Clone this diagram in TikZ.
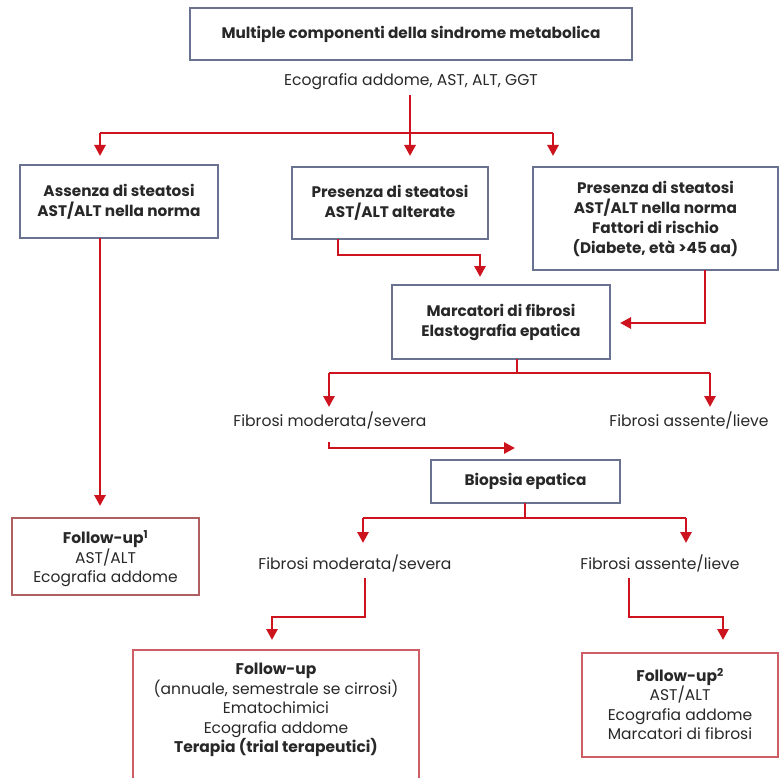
\documentclass[tikz,border=0pt]{standalone}
\usepackage{fontspec}
\setmainfont{Poppins}
\usetikzlibrary{arrows.meta}
\definecolor{arrred}{RGB}{205,20,30}
\definecolor{bluebd}{RGB}{105,115,145}
\definecolor{redbd}{RGB}{205,95,100}
\definecolor{brbd}{RGB}{175,95,95}
\definecolor{txt}{RGB}{40,40,40}
\begin{document}
\begin{tikzpicture}[x=1pt,y=-1pt,
  every node/.style={text=txt},
  bbox/.style={draw=bluebd,line width=1.4pt,fill=white,align=center,inner sep=0pt,font=\fontsize{15.3}{20}\selectfont\bfseries},
  rbox/.style={draw=redbd,line width=1.4pt,fill=white,align=center,inner sep=0pt,font=\fontsize{15.5}{19.5}\selectfont},
  btxt/.style={align=center,inner sep=0pt,font=\fontsize{15.5}{19.5}\selectfont},
  lbl/.style={inner sep=0pt,font=\fontsize{15.6}{20}\selectfont},
  arr/.style={draw=arrred,line width=2.8pt,-{Triangle[length=11pt,width=11pt]}},
  ln/.style={draw=arrred,line width=2.8pt}]
\useasboundingbox (0,0) rectangle (781,778);

% boxes
\node[bbox,minimum width=442pt,minimum height=52pt] (top) at (411,34) {Multiple componenti della sindrome metabolica};
\node[lbl] (eco) at (411,82) {Ecografia addome, AST, ALT, GGT};
\node[bbox,minimum width=198pt,minimum height=73pt] (left) at (119,201.5) {Assenza di steatosi\\AST/ALT nella norma};
\node[bbox,minimum width=196pt,minimum height=72pt] (mid) at (390,203) {Presenza di steatosi\\AST/ALT alterate};
\node[bbox,minimum width=245pt,minimum height=103pt] (right) at (655.5,218.5) {Presenza di steatosi\\AST/ALT nella norma\\Fattori di rischio\\(Diabete, età >45 aa)};
\node[bbox,minimum width=218pt,minimum height=74pt] (marc) at (501,322) {Marcatori di fibrosi\\Elastografia epatica};
\node[lbl] (fm1) at (330,420) {Fibrosi moderata/severa};
\node[lbl] (fa1) at (689,420) {Fibrosi assente/lieve};
\node[bbox,minimum width=189pt,minimum height=43pt] (biop) at (525.5,481.5) {Biopsia epatica};
\node[lbl] (fm2) at (355,563) {Fibrosi moderata/severa};
\node[lbl] (fa2) at (660,563) {Fibrosi assente/lieve};
\node[rbox,draw=brbd,minimum width=187pt,minimum height=77pt] (fu1) at (105.5,556.5) {};
\node[btxt] (fu1t) at (105.5,559) {\textbf{Follow-up\textsuperscript{1}}\\AST/ALT\\Ecografia addome};
\node[rbox,minimum width=286pt,minimum height=134pt] (fu) at (276,717) {};
\node[btxt] (fut) at (276,710) {\textbf{Follow-up}\\(annuale, semestrale se cirrosi)\\Ematochimici\\Ecografia addome\\\textbf{Terapia (trial terapeutici)}};
\node[rbox,minimum width=196pt,minimum height=104pt] (fu2) at (680,705) {};
\node[btxt] (fu2t) at (680,704) {\textbf{Follow-up\textsuperscript{2}}\\AST/ALT\\Ecografia addome\\Marcatori di fibrosi};

% coordinates
\coordinate (e0) at (410,95);
\coordinate (h1l) at (100,133);
\coordinate (h1r) at (553,133);
\coordinate (t1m) at (410,156);
\coordinate (t1l) at (100,156);
\coordinate (t1r) at (553,156);
\coordinate (m0) at (338,239);
\coordinate (m1) at (338,255);
\coordinate (m2) at (480,255);
\coordinate (m3) at (480,277);
\coordinate (r0) at (705,270);
\coordinate (r1) at (705,323);
\coordinate (r2) at (620,323);
\coordinate (k0) at (517,359);
\coordinate (k1) at (517,373);
\coordinate (k2l) at (329,373);
\coordinate (k2r) at (710,373);
\coordinate (k3l) at (329,407);
\coordinate (k3r) at (710,407);
\coordinate (f0) at (329,442);
\coordinate (f1) at (329,448);
\coordinate (f2) at (515,448);
\coordinate (b0) at (525,503);
\coordinate (b1) at (525,518);
\coordinate (b2l) at (363,518);
\coordinate (b2r) at (686,518);
\coordinate (b3l) at (363,543);
\coordinate (b3r) at (686,543);
\coordinate (g0) at (365,578);
\coordinate (g1) at (365,617);
\coordinate (g2) at (272,617);
\coordinate (g3) at (272,640);
\coordinate (q0) at (629,578);
\coordinate (q1) at (629,617);
\coordinate (q2) at (723,617);
\coordinate (q3) at (723,640);
\coordinate (l0) at (100,238);
\coordinate (l1) at (100,506);

% connectors
\draw[ln] (h1l) -- (h1r);
\draw[arr] (e0) -- (t1m);
\draw[arr] (h1l) -- (t1l);
\draw[arr] (h1r) -- (t1r);
\draw[arr] (m0) -- (m1) -- (m2) -- (m3);
\draw[arr] (r0) -- (r1) -- (r2);
\draw[ln] (k0) -- (k1);
\draw[ln] (k2l) -- (k2r);
\draw[arr] (k2l) -- (k3l);
\draw[arr] (k2r) -- (k3r);
\draw[arr] (f0) -- (f1) -- (f2);
\draw[ln] (b0) -- (b1);
\draw[ln] (b2l) -- (b2r);
\draw[arr] (b2l) -- (b3l);
\draw[arr] (b2r) -- (b3r);
\draw[arr] (g0) -- (g1) -- (g2) -- (g3);
\draw[arr] (q0) -- (q1) -- (q2) -- (q3);
\draw[arr] (l0) -- (l1);
\end{tikzpicture}
\end{document}
